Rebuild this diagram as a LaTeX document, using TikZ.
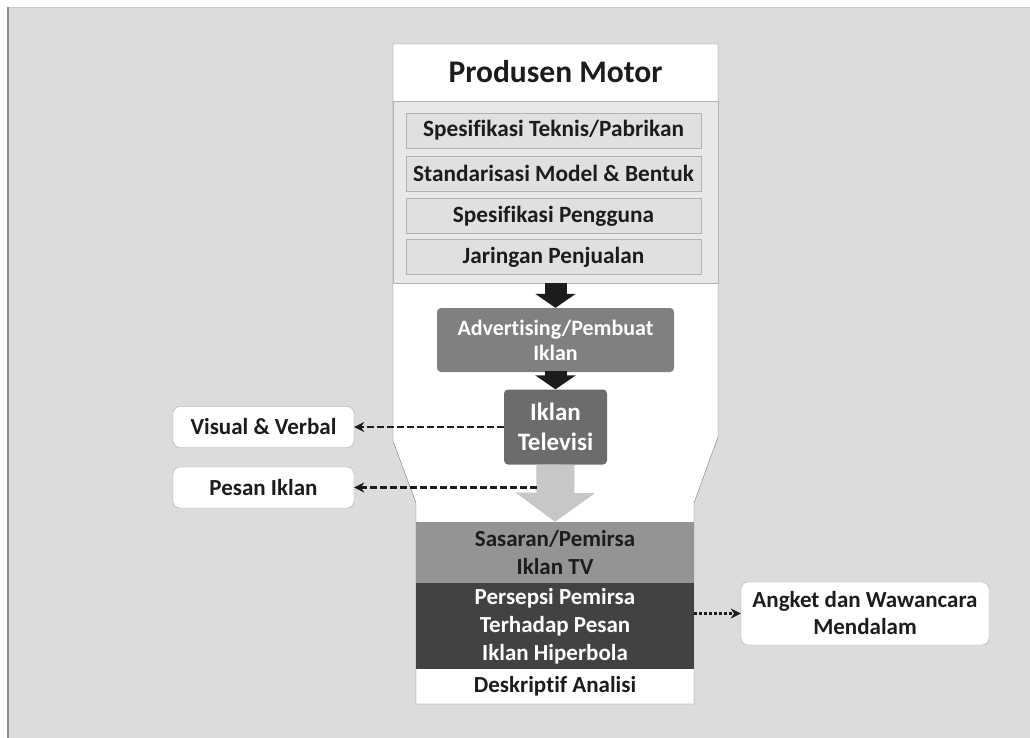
\documentclass[tikz,border=0pt]{standalone}
\usepackage{fontspec}
\setmainfont{Carlito}[Ligatures=NoCommon]
\usetikzlibrary{arrows.meta}
\definecolor{pagegray}{RGB}{220,220,220}
\definecolor{panelgray}{RGB}{232,232,232}
\definecolor{specgray}{RGB}{224,224,224}
\definecolor{adgray}{RGB}{128,128,128}
\definecolor{tvgray}{RGB}{108,108,108}
\definecolor{targetgray}{RGB}{148,148,148}
\definecolor{percgray}{RGB}{66,66,66}
\definecolor{inkgray}{RGB}{28,28,28}

\begin{document}
\begin{tikzpicture}[x=1pt,y=-1pt,
    font=\fontsize{23}{27}\selectfont\bfseries,
    specbox/.style={draw=black!30,fill=specgray,minimum width=295pt,minimum height=35pt,inner sep=0pt,text=inkgray,font=\fontsize{23.3}{27}\selectfont\bfseries},
    darkbox/.style={rounded corners=4pt,text=white,align=center,inner sep=0pt},
    sidebox/.style={draw=black!35,fill=white,rounded corners=7pt,align=center,inner sep=0pt,text=inkgray},
    band/.style={minimum width=278pt,inner sep=0pt,align=center},
    fatarrow/.style={line width=22pt,inkgray,-{Triangle[width=40pt,length=14pt]}},
    dasharrow/.style={-{Stealth[length=10pt,width=10pt]},line width=2.2pt,dash pattern=on 7pt off 3pt,inkgray}]
    % Page
    \useasboundingbox (0,0) rectangle (1030,738);
    \fill[white] (0,0) rectangle (1030,738);
    \fill[pagegray] (8,7) rectangle (1030,738);
    \draw[black!20] (8,7) -- (1030,7);
    \draw[black!45,line width=1.5pt] (8,7) -- (8,738);

    % Outline of the column
    \draw[black!55,fill=white] (393,44) -- (718,44) -- (718,437) -- (694,503) -- (694,704)
        -- (416,704) -- (416,503) -- (393,441) -- cycle;

    % Produsen
    \node[text=inkgray,font=\fontsize{31.5}{34}\selectfont\bfseries] (head) at (555.5,72) {Produsen Motor};
    \draw[black!30,fill=panelgray] (393,101) rectangle (718,283);
    \coordinate (panel) at (555.5,283);
    \node[specbox] (spec1) at (553.5,130.5) {Spesifikasi Teknis/Pabrikan};
    \node[specbox] (spec2) at (553.5,173.5) {Standarisasi Model \& Bentuk};
    \node[specbox] (spec3) at (553.5,216) {Spesifikasi Pengguna};
    \node[specbox] (spec4) at (553.5,257) {Jaringan Penjualan};

    % Iklan
    \node[darkbox,fill=adgray,minimum width=237pt,minimum height=64pt,font=\fontsize{22}{25}\selectfont\bfseries] (adv) at (555.5,340) {Advertising/Pembuat\\Iklan};
    \node[darkbox,fill=tvgray,minimum width=103pt,minimum height=75pt,font=\fontsize{25}{30}\selectfont\bfseries] (tv) at (555.5,427) {Iklan\\Televisi};
    \draw[fatarrow] (panel) -- (adv.north);
    \draw[fatarrow,shorten <=-1pt] (adv.south) -- (tv.north);

    % Pemirsa
    \node[band,fill=targetgray,minimum height=61pt,text=inkgray,font=\fontsize{23}{28}\selectfont\bfseries] (target) at (555,552.5) {Sasaran/Pemirsa\\Iklan TV};
    \node[band,fill=percgray,minimum height=86pt,text=white,font=\fontsize{23}{28}\selectfont\bfseries] (perc) at (555,626) {Persepsi Pemirsa\\Terhadap Pesan\\Iklan Hiperbola};
    \node[band,minimum height=35pt,text=inkgray] (desc) at (555,686.5) {Deskriptif Analisi};
    \draw[line width=38pt,black!22,-{Triangle[width=78pt,length=29pt]}] (tv.south) -- (target.north);
    \coordinate (tvarrow) at (536.5,487.5);

    % Side boxes
    \node[sidebox,minimum width=181pt,minimum height=41pt] (visual) at (263.5,427) {Visual \& Verbal};
    \node[sidebox,minimum width=181pt,minimum height=41pt] (pesan) at (263.5,487.5) {Pesan Iklan};
    \node[sidebox,minimum width=248pt,minimum height=63pt] (angket) at (865,613.5) {Angket dan Wawancara\\Mendalam};
    \draw[dasharrow] (tv.west) -- (visual.east);
    \draw[dasharrow] (tvarrow) -- (pesan.east);
    \draw[dasharrow,dash pattern=on 3pt off 2pt] (perc.east |- angket.west) -- (angket.west);
\end{tikzpicture}
\end{document}
